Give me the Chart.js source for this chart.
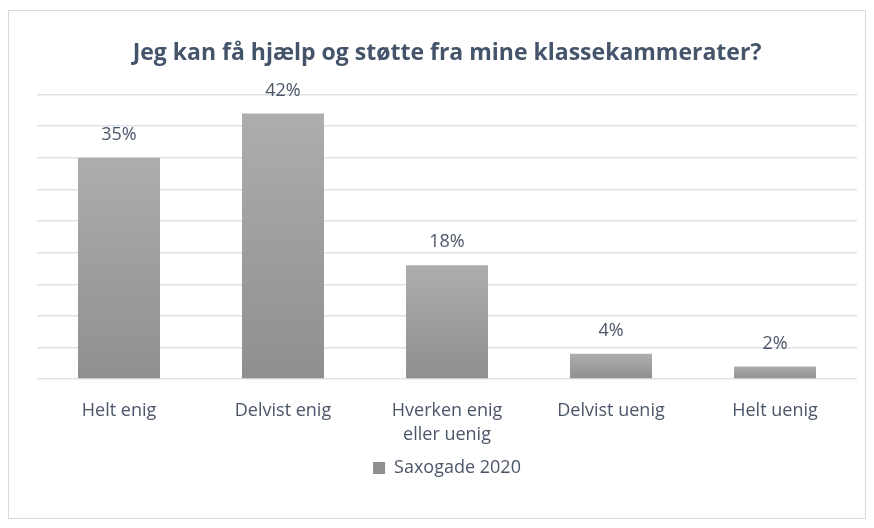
<!DOCTYPE html>
<html>
<head>
<meta charset="utf-8">
<script src="https://cdn.jsdelivr.net/npm/chart.js@4"></script>
<style>
  html, body { margin: 0; padding: 0; background: #fff; }
  #wrap { width: 874px; height: 528px; }
</style>
</head>
<body>
<div id="wrap"><canvas id="surveyChart" width="874" height="528"></canvas></div>
<script>
  // data
  const categories = ['Helt enig', 'Delvist enig', ['Hverken enig', 'eller uenig'], 'Delvist uenig', 'Helt uenig'];
  const shares = [35, 42, 18, 4, 2];
  const seriesName = 'Saxogade 2020';
  const chartTitle = 'Jeg kan få hjælp og støtte fra mine klassekammerater?';

  const fontFam = "'Open Sans', sans-serif";
  const textColor = '#4a5668';
  const gridColor = '#dde1e8';

  // light-to-dark grey gradient on every bar
  function barFill(c) {
    const chart = c.chart;
    if (!chart.chartArea || c.dataIndex === undefined) return '#a0a0a0';
    const ys = chart.scales.y;
    const top = ys.getPixelForValue(shares[c.dataIndex]);
    const base = ys.getPixelForValue(0);
    const g = chart.ctx.createLinearGradient(0, top, 0, base);
    g.addColorStop(0, '#adadad');
    g.addColorStop(1, '#8f8f8f');
    return g;
  }

  const labelPlugin = {
    id: 'valueLabels',
    afterDatasetsDraw(chart) {
      const ctx = chart.ctx;
      const meta = chart.getDatasetMeta(0);
      ctx.save();
      ctx.font = '18px ' + fontFam;
      ctx.fillStyle = textColor;
      ctx.textAlign = 'center';
      ctx.textBaseline = 'middle';
      meta.data.forEach((bar, i) => {
        ctx.fillText(shares[i] + '%', bar.x, bar.y - 23);
      });
      ctx.restore();
    }
  };

  const frame = {
    id: 'frame',
    beforeDraw(chart) {
      const ctx = chart.ctx;
      ctx.save();
      ctx.strokeStyle = '#d9d9d9';
      ctx.lineWidth = 1;
      ctx.strokeRect(8.5, 10.5, 857, 508);
      ctx.restore();
    }
  };

  new Chart(document.getElementById('surveyChart'), {
    type: 'bar',
    data: {
      labels: categories,
      datasets: [{
        label: seriesName,
        data: shares,
        backgroundColor: barFill,
        borderWidth: 0,
        barPercentage: 0.5,
        categoryPercentage: 1
      }]
    },
    options: {
      responsive: false,
      animation: false,
      layout: { padding: { left: 37, right: 17, top: 0, bottom: 41 } },
      plugins: {
        title: {
          display: true,
          text: chartTitle,
          color: '#44546a',
          font: { family: fontFam, size: 23, weight: 'bold' },
          padding: { top: 40, bottom: 27 }
        },
        legend: {
          position: 'bottom',
          labels: {
            color: textColor,
            font: { family: fontFam, size: 18 },
            boxWidth: 12,
            boxHeight: 12,
            padding: 0
          }
        },
        tooltip: { enabled: false }
      },
      scales: {
        x: {
          grid: { display: false },
          border: { display: false },
          ticks: {
            color: textColor,
            font: { family: fontFam, size: 18, lineHeight: 1.33 },
            padding: 12,
            maxRotation: 0
          }
        },
        y: {
          min: 0,
          max: 45,
          grid: { color: gridColor, lineWidth: 1.5, drawTicks: false },
          border: { display: false },
          ticks: { display: false, stepSize: 5 }
        }
      }
    },
    plugins: [labelPlugin, frame]
  });
</script>
</body>
</html>
